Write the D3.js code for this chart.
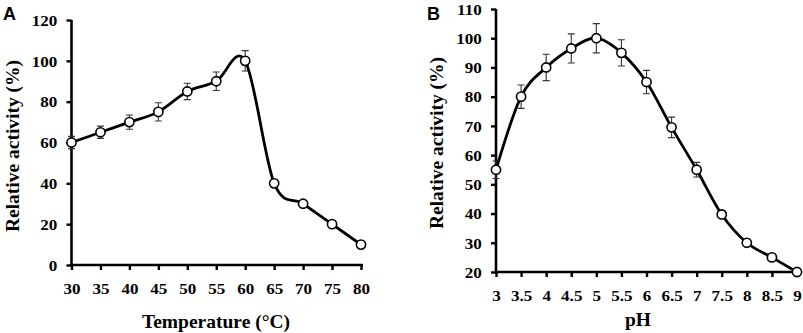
<!DOCTYPE html>
<html><head><meta charset="utf-8">
<script src="https://cdn.jsdelivr.net/npm/d3@7"></script>
<style>
html,body{margin:0;padding:0;background:#fff;}
svg{display:block;}
</style></head>
<body>
<script>
// Panel A: temperature
const tempX = [30,35,40,45,50,55,60,65,70,75,80];
const tempY = [60,65,70,75,85,90,100,40,30,20,10];
const tempErr = [3,3,3.5,4.5,4,4.5,5,0,0,0,0];
const tempXTicks = [30,35,40,45,50,55,60,65,70,75,80];
const tempYTicks = [0,20,40,60,80,100,120];
// Panel B: pH
const phX = [3,3.5,4,4.5,5,5.5,6,6.5,7,7.5,8,8.5,9];
const phY = [55,80,90,96.5,100,95,85,69.5,55,39.7,30,25,20];
const phErr = [3,4,4.5,5,5,4.5,4,3.5,2.5,0.8,0,0,0];
const phXTicks = [3,3.5,4,4.5,5,5.5,6,6.5,7,7.5,8,8.5,9];
const phYTicks = [20,30,40,50,60,70,80,90,100,110];

const W=803,H=333;
const svg=d3.select("body").append("svg").attr("width",W).attr("height",H);
const serif="'Liberation Serif','Times New Roman',serif";

function panel(o){
  const x=d3.scaleLinear().domain(o.xd).range(o.xr);
  const y=d3.scaleLinear().domain(o.yd).range(o.yr);
  const g=svg.append("g");
  const ax=g.append("g").attr("transform",`translate(0,${o.yr[0]})`)
    .call(d3.axisBottom(x).tickValues(o.xt).tickSize(5).tickSizeOuter(0).tickPadding(9).tickFormat(d=>String(d)));
  const ay=g.append("g").attr("transform",`translate(${o.xr[0]},0)`)
    .call(d3.axisLeft(y).tickValues(o.yt).tickSize(5).tickSizeOuter(0).tickPadding(8).tickFormat(d=>String(d)));
  [ax,ay].forEach(a=>{
    a.select(".domain").attr("stroke","#000").attr("stroke-width",2.6);
    a.selectAll(".tick line").attr("stroke","#000").attr("stroke-width",2.4);
    a.selectAll(".tick text").attr("fill","#000").attr("font-family",serif)
      .attr("font-weight","bold").attr("font-size",15.5);
  });
  ax.select(".domain").attr("d",`M${o.xr[0]-1.3},0H${o.xr[1]+2}`);
  ay.select(".domain").attr("d",`M0,${o.yr[0]+1.3}V${o.yr[1]}`);
  ax.selectAll(".tick text").attr("dy","0.95em").attr("transform","scale(1.1,1)");
  ay.selectAll(".tick text").attr("dy","0.34em").attr("transform","scale(1.1,1)");
  const data=o.xs.map((v,i)=>({x:v,y:o.ys[i],e:o.es[i]}));
  const eb=g.append("g").attr("stroke","#333").attr("stroke-width",1.1).attr("fill","none");
  data.filter(d=>d.e>0).forEach(d=>{
    const cx=x(d.x),t=y(d.y+d.e),b=y(d.y-d.e);
    eb.append("path").attr("d",`M${cx},${t}V${b}M${cx-3.5},${t}H${cx+3.5}M${cx-3.5},${b}H${cx+3.5}`);
  });
  const line=d3.line().x(d=>x(d.x)).y(d=>y(d.y)).curve(d3.curveCardinal.tension(0));
  g.append("path").datum(data).attr("d",line).attr("fill","none")
    .attr("stroke","#000").attr("stroke-width",2.8);
  g.selectAll("circle.m").data(data).join("circle").attr("class","m")
    .attr("cx",d=>x(d.x)).attr("cy",d=>y(d.y)).attr("r",4.6)
    .attr("fill","#fff").attr("stroke","#000").attr("stroke-width",1.6);
  g.append("text").attr("transform",`translate(${o.ytx},${o.yty}) rotate(-90)`)
    .attr("text-anchor","middle").attr("font-family",serif).attr("font-weight","bold")
    .attr("font-size",19.5).text("Relative activity (%)");
  g.append("text").attr("x",o.xtx).attr("y",o.xty).attr("text-anchor","middle")
    .attr("font-family",serif).attr("font-weight","bold").attr("font-size",19.5).text(o.xtitle);
  g.append("text").attr("x",o.lx).attr("y",20).attr("font-family","'Liberation Sans',Arial,sans-serif")
    .attr("font-weight","bold").attr("font-size",18).text(o.letter);
}

panel({xd:[30,80],xr:[71.5,361],yd:[0,120],yr:[265,20],xt:tempXTicks,yt:tempYTicks,
  xs:tempX,ys:tempY,es:tempErr,ytx:19,yty:146,xtx:216,xty:328,xtitle:"Temperature (°C)",lx:3,letter:"A"});
panel({xd:[3,9],xr:[496,797],yd:[20,110],yr:[272,9],xt:phXTicks,yt:phYTicks,
  xs:phX,ys:phY,es:phErr,ytx:443,yty:143,xtx:638,xty:326,xtitle:"pH",lx:427,letter:"B"});
</script>
</body></html>
